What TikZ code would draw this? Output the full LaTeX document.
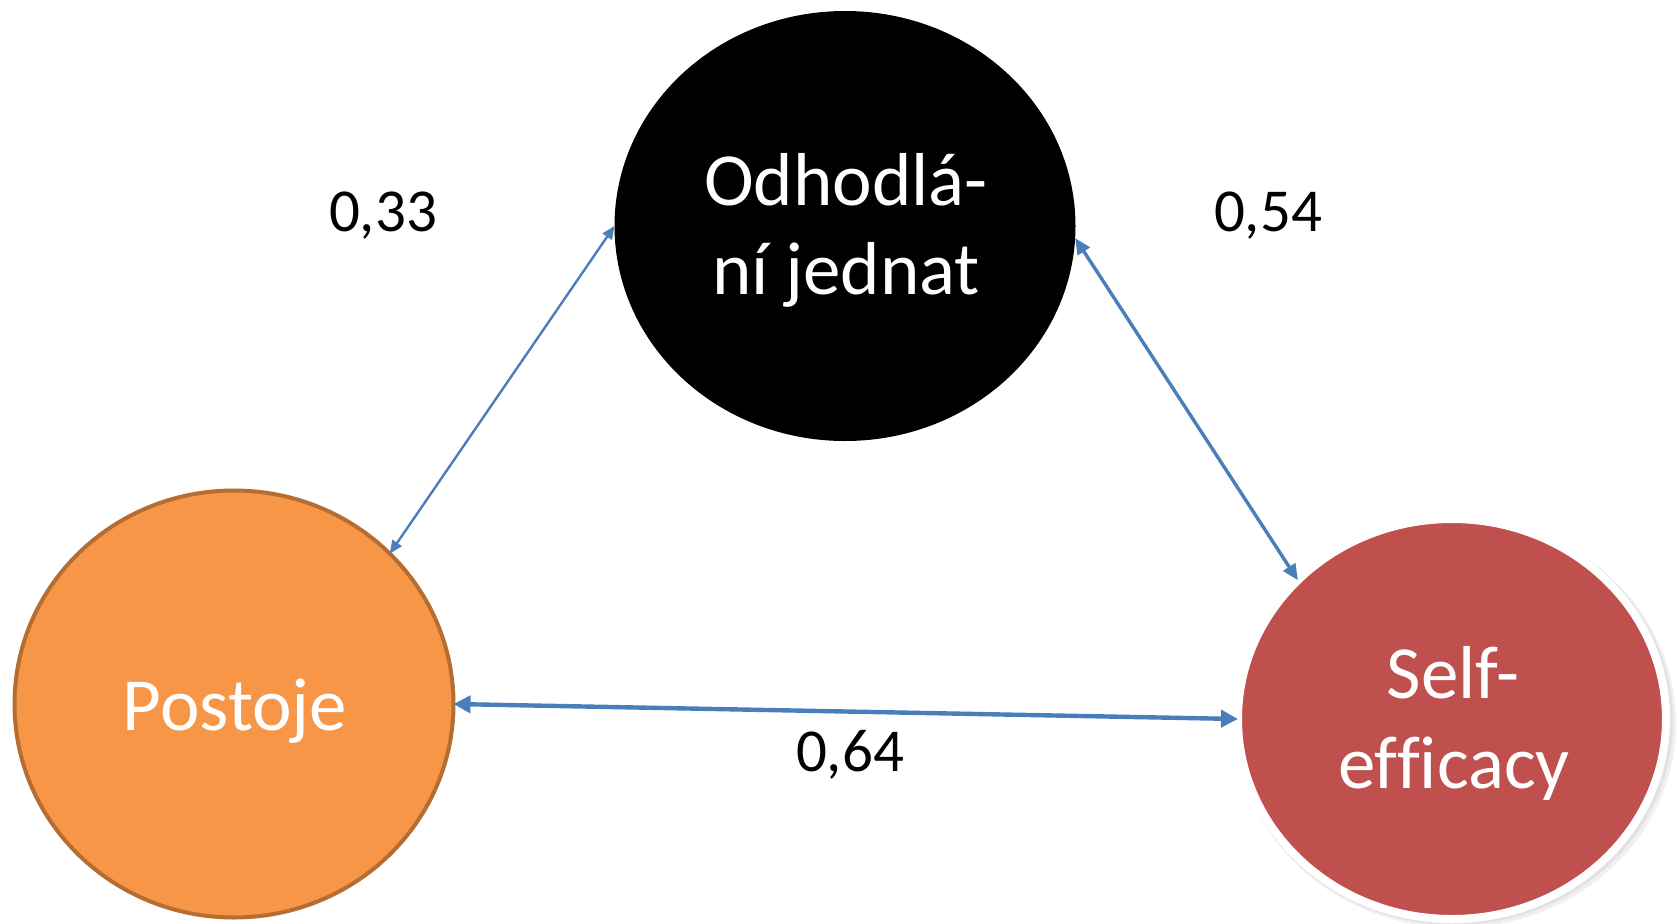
\documentclass[tikz,border=0pt]{standalone}
\usepackage{fontspec}
\setmainfont{Carlito}[Ligatures=NoCommon]
\usetikzlibrary{arrows.meta,shapes.geometric}
\definecolor{arrowblue}{HTML}{4A7EBB}
\definecolor{orangefill}{HTML}{F79646}
\definecolor{orangeline}{HTML}{B66D31}
\definecolor{redfill}{HTML}{C0504D}
\begin{document}
\begin{tikzpicture}[x=0.5pt,y=-0.5pt,
  bubble/.style={ellipse,inner sep=0pt,outer sep=0pt},
  bigtext/.style={font=\fontsize{37.5}{45}\selectfont,text=white,anchor=base,inner sep=0pt},
  weight/.style={font=\fontsize{30.5}{36}\selectfont,anchor=base,inner sep=0pt},
  link/.style={draw=arrowblue}
]
\useasboundingbox (0,0) rectangle (1677,923);
% soft shadow of the red bubble
\fill[black,opacity=0.06] (1456,723) ellipse [x radius=110pt, y radius=102.5pt];
\fill[black,opacity=0.06] (1454,721) ellipse [x radius=109.5pt, y radius=102pt];
% bubbles
\node[bubble,fill=black,minimum width=230.5pt,minimum height=215pt] (odh) at (845,226) {};
\node[bubble,fill=orangefill,draw=orangeline,line width=2pt,minimum width=219.5pt,minimum height=213.5pt] (post) at (234,704) {};
\node[bubble,fill=redfill,draw=white,line width=4pt,minimum width=214pt,minimum height=200pt] (self) at (1452,719) {};
% texts
\node[bigtext] (odhA) at (846,205) {Odhodlá-};
\node[bigtext] (odhB) at (846,294) {ní jednat};
\node[bigtext] (postT) at (235,730) {Postoje};
\node[bigtext] (selfA) at (1453,698) {Self-};
\node[bigtext] (selfB) at (1454,788) {efficacy};
% weights
\node[weight] (w1) at (383,231) {0,33};
\node[weight] (w2) at (1268,231) {0,54};
\node[weight] (w3) at (850,771) {0,64};
% connectors
\draw[link,line width=1.2pt,{Triangle[length=6.5pt,width=5.5pt]}-{Triangle[length=6.5pt,width=5.5pt]}] (post.44) -- (odh.west);
\draw[link,line width=1.7pt,{Triangle[length=8pt,width=7pt]}-{Triangle[length=8pt,width=7pt]}] (odh.-3) -- (self.138);
\draw[link,line width=2.2pt,{Triangle[length=8.5pt,width=8.5pt]}-{Triangle[length=8.5pt,width=8.5pt]}] (post.east) -- (self.west);
\end{tikzpicture}
\end{document}
